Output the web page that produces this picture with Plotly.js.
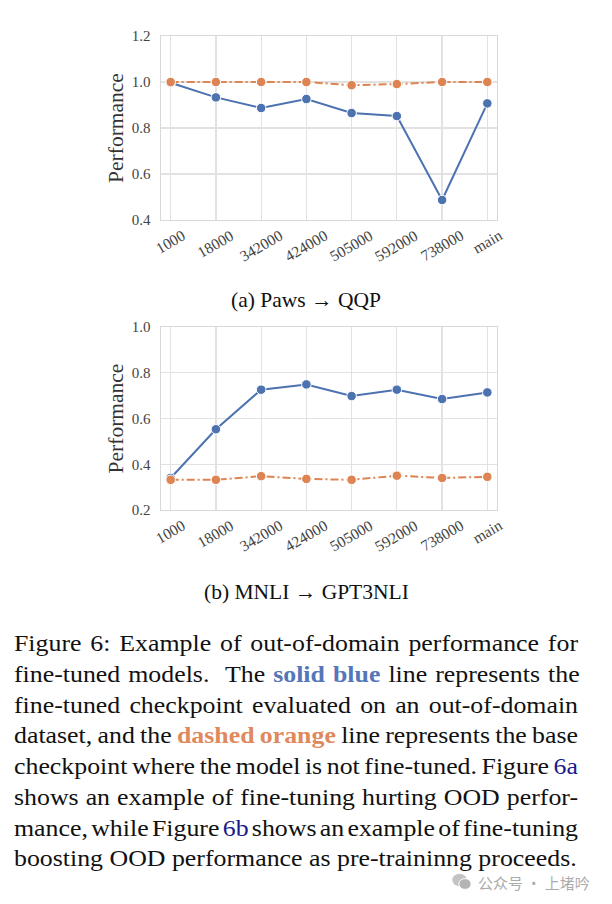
<!DOCTYPE html>
<html>
<head>
<meta charset="utf-8">
<script src="https://cdn.plot.ly/plotly-3.0.1.min.js"></script>
<style>
  html, body { margin: 0; padding: 0; background: #fff; }
  body { width: 612px; height: 904px; position: relative; overflow: hidden; }
  #chart { position: absolute; left: 0; top: 0; width: 612px; height: 904px; }
  #caption { position: absolute; left: 14px; top: 629px; width: 491px;
    transform: scaleX(1.1487); transform-origin: 0 0;
    font-family: "Liberation Serif", "Times New Roman", serif; font-size: 22.5px;
    line-height: 30.75px; color: #111; }
  #caption .ln { white-space: nowrap; }
  #caption .ln span.t { display: inline-block; }
  .blue { color: #5576b8; font-weight: bold; }
  .orange { color: #e0895c; font-weight: bold; }
  .ref { color: #1a1a8c; }
  #wm { position: absolute; left: 452px; top: 871px; height: 22px; display: flex; align-items: center;
    font-family: "Noto Sans CJK SC", sans-serif; font-size: 15px; color: #ababab; }
  #wm svg { margin-right: 6px; }
</style>
</head>
<body>
<div id="chart"></div>
<div id="caption">
  <div class="ln"><span class="t">Figure 6: Example of out-of-domain performance for</span></div>
  <div class="ln"><span class="t">fine-tuned models.&nbsp; The <span class="blue">solid blue</span> line represents the</span></div>
  <div class="ln"><span class="t">fine-tuned checkpoint evaluated on an out-of-domain</span></div>
  <div class="ln"><span class="t">dataset, and the <span class="orange">dashed orange</span> line represents the base</span></div>
  <div class="ln"><span class="t">checkpoint where the model is not fine-tuned. Figure <span class="ref">6a</span></span></div>
  <div class="ln"><span class="t">shows an example of fine-tuning hurting OOD perfor-</span></div>
  <div class="ln"><span class="t">mance, while Figure <span class="ref">6b</span> shows an example of fine-tuning</span></div>
  <div class="ln last"><span class="t">boosting OOD performance as pre-traininng proceeds.</span></div>
</div>
<div id="wm">
  <svg width="20" height="18" viewBox="0 0 20 18">
    <ellipse cx="7.5" cy="7" rx="7.2" ry="6.2" fill="#c4c4c4"/>
    <ellipse cx="13" cy="11" rx="6.2" ry="5.4" fill="#b4b4b4" stroke="#fff" stroke-width="1"/>
  </svg>
  <span>公众号 · 上堵吟</span>
</div>
<script>
// ---- data ----
const categories = ['1000', '18000', '342000', '424000', '505000', '592000', '738000', 'main'];
const pawsFinetuned = [0.997, 0.933, 0.887, 0.926, 0.865, 0.852, 0.487, 0.907];
const pawsBase      = [1.000, 1.000, 1.000, 1.000, 0.986, 0.991, 1.000, 1.000];
const mnliFinetuned = [0.340, 0.553, 0.726, 0.749, 0.698, 0.726, 0.685, 0.714];
const mnliBase      = [0.332, 0.332, 0.348, 0.336, 0.332, 0.350, 0.340, 0.345];
const yTicksTop    = [0.4, 0.6, 0.8, 1.0, 1.2];
const yTicksBottom = [0.2, 0.4, 0.6, 0.8, 1.0];
const subCaptions  = ['(a) Paws \u2192 QQP', '(b) MNLI \u2192 GPT3NLI'];
const yTitle = 'Performance';

// ---- justify caption lines (fit each line to the column width) ----
(function justify() {
  const box = document.getElementById('caption');
  const target = box.clientWidth;
  box.querySelectorAll('.ln').forEach(ln => {
    if (ln.classList.contains('last')) return;
    const t = ln.querySelector('.t');
    const natural = t.getBoundingClientRect().width / 1.1487;
    const spaces = (t.textContent.match(/[ \u00a0]+/g) || []).length;
    if (spaces > 0) t.style.wordSpacing = ((target - natural) / spaces) + 'px';
  });
})();

// ---- styles ----
const W = 612, H = 904;
const BLUE = '#4c72b0', ORANGE = '#dd8452';
const SERIF = '"Liberation Serif", "Times New Roman", serif';
const px = v => v / W;
const py = v => 1 - v / H;

function lineTrace(y, color, dash, xa, ya) {
  return {
    type: 'scatter', mode: 'lines+markers', x: categories, y: y,
    xaxis: xa, yaxis: ya,
    line: { color: color, width: 2, dash: dash },
    marker: { color: color, size: 9.5, line: { color: '#fff', width: 1 } },
    showlegend: false, hoverinfo: 'skip'
  };
}

const data = [
  lineTrace(pawsFinetuned, BLUE, 'solid', 'x', 'y'),
  lineTrace(pawsBase, ORANGE, '8px,3px,2px,3px', 'x', 'y'),
  lineTrace(mnliFinetuned, BLUE, 'solid', 'x2', 'y2'),
  lineTrace(mnliBase, ORANGE, '8px,3px,2px,3px', 'x2', 'y2')
];

const xDomain = [px(161), px(497)];
function xAxis(anchor) {
  return {
    domain: xDomain, anchor: anchor, type: 'category',
    categoryorder: 'array', categoryarray: categories,
    range: [-0.214, categories.length - 1 + 0.214],
    showgrid: true, gridcolor: '#e2e2e2', gridwidth: 1.2,
    showline: true, mirror: true, linecolor: '#d8d8d8', linewidth: 1.4,
    zeroline: false, showticklabels: false, ticks: '', fixedrange: true
  };
}
function yAxis(anchor, domain, ticks) {
  return {
    domain: domain, anchor: anchor, range: [ticks[0], ticks[ticks.length - 1]],
    tickvals: ticks, ticktext: ticks.map(v => v.toFixed(1)),
    tickfont: { family: SERIF, size: 15, color: '#444' },
    ticks: 'outside', ticklen: 6, tickcolor: 'rgba(0,0,0,0)',
    showgrid: true, gridcolor: '#e2e2e2', gridwidth: 1.2,
    showline: true, mirror: true, linecolor: '#d8d8d8', linewidth: 1.4,
    zeroline: false, automargin: false, fixedrange: true,
    title: { text: yTitle, font: { family: SERIF, size: 21.5, color: '#333' }, standoff: 2 }
  };
}

const annotations = [];
function addXLabels(xref, yPix) {
  categories.forEach((c, i) => {
    annotations.push({
      xref: xref, yref: 'paper', x: i, y: py(yPix),
      text: c, showarrow: false, textangle: -30,
      xanchor: 'center', yanchor: 'top',
      font: { family: SERIF, size: 15.5, color: '#444' }
    });
  });
}
addXLabels('x', 224);
addXLabels('x2', 514);
annotations.push({
  xref: 'paper', yref: 'paper', x: 0.5, y: py(300), text: subCaptions[0],
  showarrow: false, xanchor: 'center', yanchor: 'middle',
  font: { family: SERIF, size: 21.5, color: '#111' }
});
annotations.push({
  xref: 'paper', yref: 'paper', x: 0.5, y: py(592), text: subCaptions[1],
  showarrow: false, xanchor: 'center', yanchor: 'middle',
  font: { family: SERIF, size: 21.5, color: '#111' }
});

const layout = {
  width: W, height: H,
  margin: { l: 0, r: 0, t: 0, b: 0 },
  paper_bgcolor: '#fff', plot_bgcolor: '#fff',
  showlegend: false,
  xaxis: xAxis('y'),
  yaxis: yAxis('x', [py(220), py(36)], yTicksTop),
  xaxis2: xAxis('y2'),
  yaxis2: yAxis('x2', [py(510), py(327)], yTicksBottom),
  annotations: annotations
};

Plotly.newPlot('chart', data, layout, { displayModeBar: false, staticPlot: true });
</script>
</body>
</html>
